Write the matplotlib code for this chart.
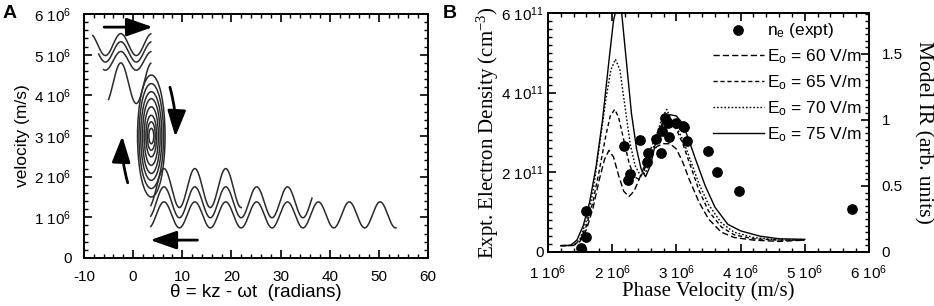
"""Phase-space sketch (A) and electron density vs phase velocity (B)."""
import matplotlib
matplotlib.use("Agg")
import matplotlib.pyplot as plt
import numpy as np
from matplotlib.patches import Ellipse
from matplotlib.ticker import MultipleLocator

plt.rcParams['font.family'] = ['Liberation Sans', 'DejaVu Sans']
plt.rcParams['mathtext.default'] = 'regular'
plt.rcParams['axes.unicode_minus'] = False

SERIF = ['Liberation Serif', 'DejaVu Serif']
INK = '#2a2a2a'

# ---- panel A: trapping picture (theta in rad, velocity in 1e6 m/s) ----
upper_mean = [5.25, 5.07, 4.85, 4.30]
upper_amp = [0.27, 0.25, 0.23, 0.50]
upper_start = [-8.2, -7.0, -6.0, -5.0]
upper_end = [3.6, 3.6, 3.6, 3.6]
upper_phase = -2.5

lower_mean = [1.72, 1.37, 1.06]
lower_amp = [0.48, 0.38, 0.32]
lower_start = [3.6, 3.6, 3.6]
lower_end = [22.0, 36.4, 53.5]
lower_phase = 0.0

ell_center = (3.7, 3.0)
ell_half_theta = [2.8, 2.5, 2.15, 1.8, 1.45, 1.1, 0.8, 0.5]
ell_half_v = [1.5, 1.29, 1.09, 0.92, 0.72, 0.51, 0.35, 0.19]

# ---- panel B: measured density (x 1e6 m/s, y 1e11 cm^-3) ----
ne_v = [1.51, 1.59, 1.60, 2.18, 2.24, 2.28, 2.43, 2.54, 2.56, 2.69, 2.76, 2.78,
        2.82, 2.87, 2.89, 3.00, 3.10, 3.12, 3.16, 3.49, 3.64, 3.97, 5.73]
ne_val = [0.09, 0.37, 1.03, 2.66, 1.81, 1.96, 2.81, 2.27, 2.49, 2.83, 2.49, 3.04,
          3.36, 3.23, 2.89, 3.23, 3.16, 3.15, 2.79, 2.54, 2.02, 1.54, 1.08]

# model IR curves (x 1e6 m/s, arb. units)
ir75_v = [1.20, 1.35, 1.45, 1.55, 1.65, 1.75, 1.85, 1.95, 2.02, 2.08, 2.15, 2.22,
          2.30, 2.38, 2.45, 2.52, 2.60, 2.70, 2.80, 2.90, 3.00, 3.10, 3.20, 3.30,
          3.45, 3.60, 3.80, 4.00, 4.30, 4.60, 5.00]
ir75 = [0.048, 0.05, 0.09, 0.20, 0.38, 0.65, 1.00, 1.45, 1.75, 1.88, 1.80, 1.45,
        1.05, 0.78, 0.63, 0.57, 0.66, 0.88, 1.00, 1.04, 1.03, 0.97, 0.84, 0.70,
        0.50, 0.34, 0.21, 0.16, 0.12, 0.10, 0.096]
ir70_v = [1.20, 1.40, 1.50, 1.60, 1.70, 1.80, 1.90, 1.98, 2.05, 2.12, 2.20, 2.28,
          2.36, 2.44, 2.52, 2.60, 2.70, 2.78, 2.85, 2.92, 3.00, 3.10, 3.20, 3.35,
          3.50, 3.70, 3.90, 4.20, 4.60, 5.00]
ir70 = [0.048, 0.05, 0.10, 0.24, 0.45, 0.80, 1.15, 1.38, 1.46, 1.38, 1.10, 0.82,
        0.65, 0.58, 0.60, 0.72, 0.90, 1.02, 1.08, 1.00, 0.95, 0.85, 0.72, 0.52,
        0.36, 0.22, 0.15, 0.11, 0.09, 0.09]
ir65_v = [1.20, 1.40, 1.50, 1.60, 1.70, 1.80, 1.90, 1.97, 2.04, 2.10, 2.18, 2.26,
          2.34, 2.42, 2.50, 2.60, 2.70, 2.80, 2.90, 3.00, 3.10, 3.20, 3.35, 3.50,
          3.70, 3.90, 4.20, 4.60, 5.00]
ir65 = [0.048, 0.05, 0.09, 0.20, 0.38, 0.62, 0.88, 1.03, 1.08, 1.02, 0.85, 0.68,
        0.57, 0.55, 0.62, 0.78, 0.90, 0.97, 0.98, 0.93, 0.82, 0.68, 0.47, 0.31,
        0.19, 0.13, 0.10, 0.09, 0.09]
ir60_v = [1.20, 1.40, 1.50, 1.60, 1.70, 1.80, 1.88, 1.95, 2.02, 2.10, 2.18, 2.26,
          2.34, 2.42, 2.50, 2.60, 2.70, 2.80, 2.90, 3.00, 3.10, 3.20, 3.35, 3.50,
          3.70, 3.90, 4.20, 4.60, 5.00]
ir60 = [0.048, 0.05, 0.08, 0.17, 0.33, 0.55, 0.70, 0.77, 0.72, 0.58, 0.46, 0.42,
        0.46, 0.55, 0.65, 0.75, 0.80, 0.82, 0.82, 0.78, 0.68, 0.55, 0.38, 0.25,
        0.15, 0.11, 0.09, 0.08, 0.09]

fields = [60, 65, 70, 75]
field_styles = [(0, (4.5, 2.2)), (0, (3.0, 2.0)), (0, (1.2, 1.4)), '-']

fig = plt.figure(figsize=(9.34, 3.06), dpi=100)

# ================= panel A =================
axA = fig.add_axes([0.0899, 0.1569, 0.3683, 0.797])
for m, a, s, e in zip(upper_mean, upper_amp, upper_start, upper_end):
    th = np.linspace(s, e, 300)
    axA.plot(th, m + a * np.cos(th - upper_phase), color=INK, lw=1.1)
for m, a, s, e in zip(lower_mean, lower_amp, lower_start, lower_end):
    th = np.linspace(s, e, 800)
    axA.plot(th, m + a * np.cos(th - lower_phase), color=INK, lw=1.1)
for hw, hh in zip(ell_half_theta, ell_half_v):
    axA.add_patch(Ellipse(ell_center, 2 * hw, 2 * hh, fill=False, ec=INK, lw=1.1))

arrow_kw = dict(arrowstyle='-|>,head_length=0.8,head_width=0.28', color='k',
                lw=2.0, mutation_scale=20, shrinkA=0, shrinkB=0)
axA.annotate('', xy=(4.0, 5.68), xytext=(-5.9, 5.68), arrowprops=arrow_kw)
axA.annotate('', xy=(3.5, 0.44), xytext=(13.1, 0.44), arrowprops=arrow_kw)
axA.annotate('', xy=(8.6, 2.98), xytext=(7.5, 4.2),
             arrowprops=dict(arrow_kw, connectionstyle='arc3,rad=-0.08'))
axA.annotate('', xy=(-2.2, 3.0), xytext=(-1.1, 1.85),
             arrowprops=dict(arrow_kw, connectionstyle='arc3,rad=-0.08'))

axA.set_xlim(-10, 60)
axA.set_ylim(0, 6)
axA.xaxis.set_major_locator(MultipleLocator(10))
axA.xaxis.set_minor_locator(MultipleLocator(2))
axA.yaxis.set_minor_locator(MultipleLocator(0.2))
axA.set_yticks(range(7))
axA.set_yticklabels(['0'] + [f'{k} 10$^{{6}}$' for k in range(1, 7)])
axA.tick_params(which='both', direction='in', top=True, right=True, labelsize=11)
axA.tick_params(axis='x', pad=9)
axA.tick_params(axis='y', pad=9)
axA.tick_params(which='major', length=6, width=1.2)
axA.tick_params(which='minor', length=3, width=1.0)
for sp in axA.spines.values():
    sp.set_linewidth(1.4)
axA.set_xlabel('θ = kz - ωt  (radians)', fontsize=13.5, labelpad=0)
axA.set_ylabel('velocity (m/s)', fontsize=12.5, labelpad=3)

# ================= panel B =================
axB = fig.add_axes([0.5867, 0.1765, 0.3437, 0.781])
axR = axB.twinx()
pts = axB.scatter(ne_v, ne_val, s=45, color='k', zorder=5, label='n$_e$ (expt)')
axB.set_zorder(axR.get_zorder() + 1)
axB.patch.set_visible(False)

curves = [(ir60_v, ir60), (ir65_v, ir65), (ir70_v, ir70), (ir75_v, ir75)]
lines = []
for (xs, ys), f, ls in zip(curves, fields, field_styles):
    ln, = axR.plot(xs, ys, color='k', lw=1.0, linestyle=ls,
                   label=f'E$_o$ = {f} V/m')
    lines.append(ln)

axB.set_xlim(1, 6)
axB.set_ylim(0, 6)
axR.set_ylim(0, 1.81)
axB.set_xticks(range(1, 7))
axB.set_xticklabels([f'{k} 10$^{{6}}$' for k in range(1, 7)])
axB.xaxis.set_minor_locator(MultipleLocator(0.2))
axB.set_yticks([0, 2, 4, 6])
axB.set_yticklabels(['0', '2 10$^{11}$', '4 10$^{11}$', '6 10$^{11}$'])
axB.yaxis.set_minor_locator(MultipleLocator(0.2))
axR.set_yticks([0, 0.5, 1, 1.5])
axR.set_yticklabels(['0', '0.5', '1', '1.5'])
axR.yaxis.set_minor_locator(MultipleLocator(0.05))
axB.tick_params(which='both', direction='in', top=True, labelsize=11)
axB.tick_params(axis='x', pad=8)
axB.tick_params(axis='y', pad=3)
axR.tick_params(which='both', direction='in', labelsize=11, pad=9)
for a in (axB, axR):
    a.tick_params(which='major', length=6, width=1.2)
    a.tick_params(which='minor', length=3, width=1.0)
    for sp in a.spines.values():
        sp.set_linewidth(1.4)

axB.set_xlabel('Phase Velocity (m/s)', family=SERIF, fontsize=15, labelpad=0)
axB.set_ylabel('Expt. Electron Density (cm$^{-3}$)', family=SERIF, fontsize=15,
               labelpad=0)
axR.set_ylabel('Model IR (arb. units)', family=SERIF, fontsize=15.5,
               rotation=270, labelpad=22)

axB.legend([pts] + lines, [pts.get_label()] + [l.get_label() for l in lines],
           loc='upper right', bbox_to_anchor=(1.01, 1.01), frameon=False,
           fontsize=12.5, handlelength=2.9, handletextpad=0.2, labelspacing=0.42,
           scatterpoints=1, borderaxespad=0.2)

fig.text(0.003, 0.985, 'A', fontsize=14, fontweight='bold', va='top')
fig.text(0.474, 0.985, 'B', fontsize=14, fontweight='bold', va='top')

fig.savefig('out.png', dpi=100)
